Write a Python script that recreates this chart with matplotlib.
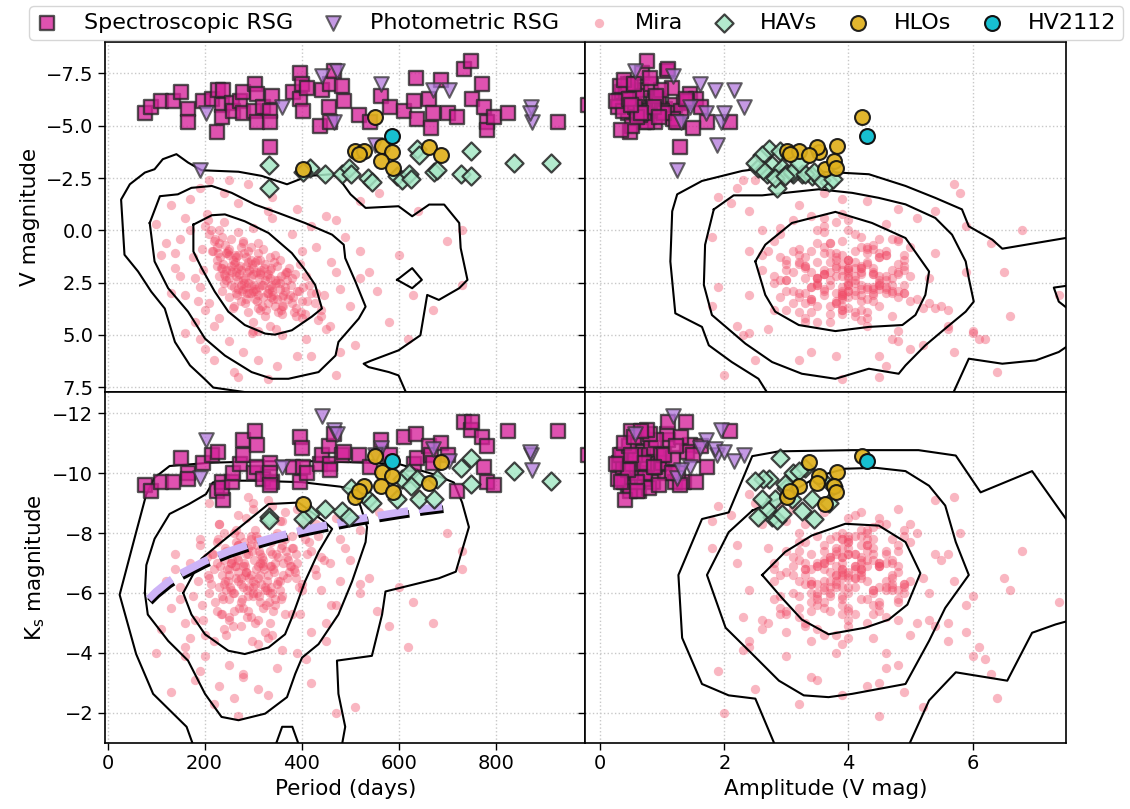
import numpy as np
import matplotlib.pyplot as plt
import matplotlib.patheffects as pe

# --- Mira variables: period (d), amplitude (V mag), V mag, Ks mag ---
mira_period = [
    250, 270, 300, 320, 290, 340, 230, 360, 280, 310,
    260, 330, 210, 380, 295, 245, 350, 275, 315, 400,
    225, 265, 335, 305, 285, 255, 370, 240, 325, 420,
    200, 345, 290, 310, 260, 385, 235, 355, 280, 330,
    300, 215, 365, 250, 410, 275, 320, 295, 240, 345,
    265, 390, 225, 310, 285, 355, 250, 335, 270, 440,
    195, 300, 325, 260, 375, 230, 315, 290, 350, 245,
    400, 280, 335, 220, 305, 365, 255, 320, 430, 270,
    295, 340, 235, 310, 380, 265, 325, 285, 360, 205,
    345, 275, 415, 250, 300, 330, 290, 370, 240, 315,
    130, 150, 110, 170, 180, 160, 140, 200, 220, 190,
    250, 280, 310, 350, 390, 240, 270, 330, 380, 430,
    460, 480, 450, 500, 520, 470, 410, 360, 300, 230,
    190, 160, 120, 100, 210, 260, 340, 420, 560, 600,
    640, 730, 730, 540, 630, 580, 510, 470, 330, 200,
    180, 150, 140, 170, 440, 490, 620, 390, 250, 290,
    520, 555, 420, 280, 360, 130, 160, 220, 270, 300,
    310, 340, 210, 230, 450, 480, 400, 190, 670, 700,
    262, 318, 288, 342, 248, 372, 298, 278, 328, 232,
    356, 308, 268, 388, 282, 312, 252, 348, 292, 322,
    242, 362, 302, 272, 338, 258, 378, 286, 316, 228,
    352, 296, 266, 334, 306, 254, 368, 276, 326, 296,
    244, 344, 284, 314, 394, 236, 274, 332, 304, 358,
    214, 226, 238, 262, 284, 306, 328, 352, 376, 398,
    222, 246, 268, 292, 318, 342, 366, 388, 412, 434,
    208, 234, 256, 282, 308, 336, 358, 382, 404, 428,
    218, 242, 264, 288, 312, 338, 362, 386, 408, 446,
    196, 258, 298, 348, 396, 176, 186, 458, 470, 520]
mira_amp = [
    3.9, 4.2, 3.6, 4.5, 3.2, 4.0, 3.7, 4.8, 2.9, 4.3,
    3.4, 3.8, 4.1, 3.5, 4.6, 3.0, 4.9, 3.6, 2.8, 4.4,
    4.0, 5.0, 3.3, 4.2, 3.9, 4.7, 3.1, 3.5, 4.1, 3.8,
    3.6, 4.5, 2.7, 5.2, 4.3, 3.4, 3.9, 3.0, 4.8, 4.4,
    3.7, 4.6, 3.9, 2.9, 4.1, 4.0, 3.2, 4.9, 3.8, 3.5,
    4.2, 4.7, 3.3, 3.9, 4.5, 2.8, 4.0, 4.3, 3.6, 3.9,
    4.4, 3.1, 4.8, 3.7, 4.0, 4.5, 3.4, 4.1, 5.1, 3.8,
    3.3, 4.6, 3.6, 2.8, 4.3, 4.2, 3.5, 4.0, 4.7, 3.2,
    3.9, 4.4, 4.1, 3.5, 3.8, 4.9, 3.0, 4.2, 3.7, 3.9,
    4.6, 3.4, 4.0, 4.3, 3.8, 3.3, 4.5, 4.1, 3.6, 4.0,
    3.2, 4.5, 2.6, 3.9, 5.3, 2.4, 4.2, 3.0, 5.6, 2.2,
    4.8, 3.4, 2.5, 4.6, 3.8, 5.8, 2.1, 5.4, 2.9, 5.0,
    3.5, 4.4, 2.7, 5.5, 3.1, 4.0, 6.2, 2.3, 6.0, 4.3,
    1.9, 5.1, 3.7, 4.6, 2.5, 6.4, 1.9, 5.9, 3.6, 4.9,
    2.4, 6.8, 4.2, 6.5, 7.4, 3.3, 5.2, 2.0, 3.9, 5.0,
    3.5, 2.8, 5.4, 4.0, 6.6, 1.8, 6.1, 4.8, 2.3, 5.7,
    4.3, 3.0, 4.5, 6.3, 1.8, 4.9, 6.0, 3.2, 4.5, 2.9,
    4.8, 3.6, 5.3, 2.6, 3.4, 5.7, 2.4, 4.7, 5.6, 3.9,
    4.1, 3.7, 4.4, 3.9, 3.4, 4.3, 3.2, 4.8, 4.6, 3.8,
    3.6, 4.2, 3.0, 4.0, 4.5, 3.5, 4.7, 4.1, 3.9, 3.3,
    4.4, 3.9, 4.7, 3.6, 3.2, 4.0, 4.5, 3.4, 4.9, 3.7,
    4.3, 3.8, 4.2, 3.5, 4.1, 3.3, 4.8, 4.0, 3.9, 4.3,
    4.6, 3.7, 3.1, 4.4, 3.6, 4.2, 3.8, 4.5, 3.4, 4.0,
    3.5, 4.2, 3.9, 4.6, 3.3, 4.0, 4.4, 3.7, 4.1, 3.2,
    4.8, 3.6, 4.3, 3.9, 4.5, 3.4, 4.0, 4.7, 3.8, 4.2,
    3.1, 4.4, 3.7, 4.0, 4.9, 3.5, 4.2, 3.9, 4.6, 3.3,
    4.1, 3.8, 4.5, 3.2, 4.3, 4.0, 3.6, 4.8, 3.9, 4.4,
    2.6, 5.4, 2.4, 5.6, 3.0, 2.9, 5.0, 2.2, 5.9, 4.7]
mira_vmag = [
    1.2, 1.8, 2.1, 2.6, 1.5, 2.9, 0.6, 3.2, 2.4, 1.1,
    2.7, 3.5, 0.2, 2.3, 3.0, 1.9, 1.7, 0.8, 3.8, 3.4,
    1.4, 2.2, 1.3, 2.8, 3.3, 0.4, 2.0, 2.5, 4.1, 3.0,
    -0.2, 2.4, 1.0, 3.7, 1.6, 3.9, 2.9, 1.4, 0.5, 2.1,
    4.4, 1.0, 2.7, 3.2, 2.2, 1.9, 0.9, 2.6, -0.4, 3.6,
    2.0, 2.9, 1.7, 3.1, 1.3, 2.5, 2.3, 4.6, 0.1, 3.8,
    0.9, 2.9, 1.6, 3.6, 1.8, 2.2, 2.0, 3.9, 3.3, 1.1,
    4.2, 2.8, 1.9, 0.5, 1.5, 2.1, 2.6, 3.2, 3.0, 1.2,
    2.2, 2.7, 1.8, 0.6, 3.5, 3.0, 2.4, 1.7, 4.0, -0.8,
    1.2, 3.4, 2.6, 0.9, 1.8, 3.0, 2.5, 2.4, 2.1, 1.4,
    -1.2, 0.4, 1.2, -1.5, 2.3, 3.1, 1.8, 3.8, 4.6, -2.0,
    5.3, 5.8, 6.2, 6.5, 6.0, -1.8, -1.3, -0.9, 0.2, 0.8,
    1.5, 2.8, 4.7, 3.6, 1.0, -0.5, 5.2, 5.0, 4.8, 4.2,
    2.7, -0.6, 0.6, -0.3, -2.4, 6.8, -1.6, -0.2, -1.8, 1.2,
    -0.9, 0.0, 2.6, 2.0, 3.1, 4.4, 5.5, 6.9, 7.1, 5.7,
    4.4, 2.2, 1.1, 0.0, 4.1, 0.3, 5.2, -1.0, -2.4, -2.2,
    -1.4, 2.9, 6.0, 0.6, 3.6, 3.0, 4.9, 6.2, 7.0, -0.1,
    4.8, -0.6, 3.5, 0.0, -0.7, 5.8, 1.0, 5.2, 3.8, 0.5,
    1.5, 2.6, 2.0, 3.1, 1.0, 3.3, 1.6, 2.9, 2.2, 1.3,
    2.8, 3.4, 2.4, 3.7, 1.1, 2.3, 1.9, 2.5, 3.0, 1.8,
    0.7, 3.6, 2.6, 2.1, 3.2, 1.4, 2.6, 2.7, 1.9, 1.1,
    3.9, 1.4, 3.1, 2.3, 2.9, 1.7, 2.0, 2.6, 3.8, 0.8,
    2.4, 1.5, 3.5, 2.1, 2.9, 0.3, 1.7, 2.8, 3.3, 2.2,
    0.0, 0.8, 1.6, 1.2, 2.3, 2.0, 3.0, 2.4, 3.1, 3.9,
    0.4, 1.1, 2.8, 1.9, 3.6, 3.3, 2.9, 4.1, 3.4, 4.3,
    -0.5, 1.8, 2.0, 2.5, 1.4, 2.6, 3.8, 3.2, 2.7, 3.5,
    1.0, 2.2, 1.3, 3.0, 2.7, 1.8, 3.1, 2.1, 4.0, 3.1,
    1.9, 3.7, 4.9, 4.7, 1.6, 1.3, 3.4, 4.6, 2.0, 2.3]
mira_kmag = [
    -6.8, -7.1, -6.4, -6.9, -5.9, -7.3, -6.2, -7.6, -5.5, -7.8,
    -6.0, -6.6, -6.5, -7.9, -5.2, -7.4, -6.3, -5.7, -7.0, -8.2,
    -5.4, -7.7, -5.0, -8.1, -6.7, -6.1, -7.2, -4.8, -6.2, -7.4,
    -7.0, -5.6, -7.5, -6.5, -8.0, -6.8, -5.9, -8.4, -6.9, -4.5,
    -6.0, -7.3, -5.3, -6.6, -8.6, -4.9, -7.1, -7.9, -6.3, -5.8,
    -6.5, -7.0, -7.7, -4.3, -8.5, -6.4, -5.1, -6.9, -7.6, -7.2,
    -5.6, -8.8, -6.1, -5.4, -6.7, -8.3, -5.7, -7.3, -8.0, -4.6,
    -6.3, -6.2, -7.4, -6.8, -5.0, -8.7, -7.0, -5.5, -6.6, -6.4,
    -7.8, -6.0, -5.3, -6.9, -7.5, -8.1, -4.7, -6.7, -5.9, -7.2,
    -7.0, -6.3, -7.7, -5.8, -6.2, -8.3, -5.4, -6.5, -7.1, -6.6,
    -5.5, -6.2, -4.8, -7.0, -5.1, -4.2, -6.8, -3.9, -4.4, -7.6,
    -3.6, -3.2, -2.8, -3.5, -4.0, -8.0, -8.6, -9.1, -5.3, -8.3,
    -5.6, -7.8, -5.0, -7.1, -6.0, -8.5, -3.8, -4.1, -5.9, -2.9,
    -3.4, -5.0, -6.4, -4.0, -9.0, -2.5, -8.9, -4.7, -8.7, -6.2,
    -9.3, -7.4, -6.8, -6.5, -5.7, -4.9, -2.2, -2.0, -2.6, -4.6,
    -3.1, -5.8, -7.3, -4.5, -6.1, -7.5, -4.2, -8.8, -5.2, -9.2,
    -8.1, -5.4, -3.0, -3.3, -8.4, -2.7, -3.9, -2.3, -1.9, -9.0,
    -5.1, -4.6, -6.0, -8.3, -4.4, -6.4, -6.1, -7.8, -5.0, -8.0,
    -6.9, -7.2, -6.1, -6.8, -6.4, -7.1, -7.4, -5.8, -6.4, -6.9,
    -6.1, -7.6, -6.7, -7.3, -7.0, -5.9, -6.2, -7.9, -6.5, -6.8,
    -7.5, -6.6, -7.1, -5.5, -7.7, -6.0, -6.9, -7.3, -6.3, -7.8,
    -6.4, -6.6, -7.2, -6.0, -6.8, -7.0, -7.4, -6.5, -5.6, -7.6,
    -6.1, -6.7, -6.9, -7.3, -6.2, -6.6, -7.9, -5.7, -6.3, -7.5,
    -6.3, -7.0, -5.8, -7.4, -6.6, -7.9, -6.1, -7.2, -6.9, -8.0,
    -5.7, -6.8, -7.6, -6.2, -7.0, -5.4, -7.8, -6.5, -7.3, -7.9,
    -6.6, -5.3, -7.1, -7.7, -6.0, -6.9, -5.8, -7.5, -8.3, -6.8,
    -7.3, -6.4, -6.9, -5.2, -7.4, -6.2, -7.0, -6.7, -7.8, -7.1,
    -5.1, -4.9, -4.4, -7.3, -5.3, -5.9, -6.4, -7.0, -5.6, -6.3]

# --- Spectroscopic RSGs ---
srsg_period = [77, 90, 111, 135, 152, 166, 166, 197, 215, 225,
               228, 235, 239, 235, 256, 259, 273, 280, 280, 301,
               304, 308, 308, 321, 335, 339, 335, 335, 383, 397,
               401, 397, 404, 411, 439, 442, 456, 459, 459, 466,
               483, 487, 518, 542, 563, 583, 611, 632, 635, 639,
               663, 666, 670, 687, 701, 721, 735, 749, 752, 773,
               776, 783, 783, 797, 825, 928, 990]
srsg_amp = [0.45, 0.62, 0.38, 0.85, 0.55, 1.05, 0.70, 0.30, 0.92, 0.48,
            0.66, 1.20, 0.40, 0.78, 1.35, 0.58, 0.95, 0.35, 1.10, 0.72,
            0.50, 1.45, 0.88, 0.28, 1.00, 0.60, 1.25, 1.29, 0.42, 0.68,
            0.82, 1.55, 0.36, 1.15, 0.52, 0.98, 1.62, 0.75, 0.44, 1.08,
            0.32, 1.40, 0.64, 1.72, 0.90, 0.56, 1.30, 0.26, 0.80, 1.18,
            0.47, 1.50, 0.70, 0.38, 1.02, 0.60, 1.10, 0.75, 1.38, 0.54,
            0.86, 1.22, 0.34, 0.95, 0.66, 2.09, 0.50]
srsg_vmag = [-5.6, -5.9, -6.2, -6.2, -6.6, -5.8, -5.2, -6.2, -6.3, -4.7,
             -6.7, -6.0, -6.7, -5.4, -6.1, -5.7, -6.2, -6.6, -5.6, -5.7,
             -7.0, -6.5, -5.2, -5.9, -5.7, -6.4, -5.2, -4.0, -6.6, -7.5,
             -7.0, -6.3, -5.7, -6.8, -5.0, -6.7, -5.9, -5.2, -7.0, -7.6,
             -6.9, -6.2, -5.5, -5.2, -6.4, -5.9, -5.7, -6.2, -7.3, -5.3,
             -6.3, -4.9, -5.6, -7.2, -5.6, -5.4, -7.7, -8.1, -6.3, -7.0,
             -5.9, -5.2, -4.8, -5.4, -5.6, -5.2, -6.0]
srsg_kmag = [-9.6, -9.4, -9.7, -9.7, -10.5, -10.0, -9.8, -10.35, -10.6, -9.4,
             -10.7, -9.7, -9.1, -9.5, -9.7, -10.0, -10.3, -10.6, -11.1, -10.0,
             -11.4, -10.95, -10.2, -9.8, -10.35, -9.7, -10.0, -9.6, -10.2, -11.2,
             -10.85, -9.7, -10.2, -10.0, -10.3, -10.6, -10.9, -10.3, -10.1, -11.3,
             -10.6, -10.7, -10.6, -10.2, -11.1, -10.6, -11.2, -10.3, -11.3, -10.5,
             -10.9, -10.6, -10.35, -11.0, -10.6, -9.4, -11.7, -11.45, -11.7, -11.2,
             -10.2, -10.9, -9.7, -9.6, -11.4, -11.4, -10.6]

# --- Photometric RSGs ---
prsg_period = [190, 204, 359, 442, 466, 473, 563, 552, 670, 704, 873, 876, 870]
prsg_amp = [1.24, 1.70, 1.45, 1.18, 1.95, 0.56, 1.61, 1.88, 1.85, 2.15, 2.31, 1.30, 1.99]
prsg_vmag = [-2.9, -5.6, -5.9, -7.4, -5.2, -7.6, -7.0, -4.1, -6.7, -6.7, -5.9, -5.2, -5.6]
prsg_kmag = [-9.85, -11.1, -10.2, -11.9, -11.45, -11.3, -10.85, -10.6, -10.8, -10.4, -10.6, -10.1, -10.7]

# --- HAVs ---
hav_period = [332, 332, 418, 449, 483, 497, 501, 538, 545, 597, 607, 621,
              639, 642, 673, 680, 728, 749, 749, 838, 914, 404, 625]
hav_amp = [2.77, 2.85, 2.93, 2.69, 3.25, 2.55, 3.00, 2.82, 3.68, 3.41, 3.55, 3.10,
           2.72, 2.61, 3.09, 2.62, 3.30, 2.90, 2.98, 3.20, 2.50, 3.45, 3.75]
hav_vmag = [-3.1, -2.0, -3.0, -2.7, -2.7, -3.0, -2.7, -2.5, -2.3, -2.6, -2.4, -2.7,
            -3.9, -3.6, -2.8, -2.9, -2.7, -3.8, -2.6, -3.2, -3.2, -2.8, -2.45]
hav_kmag = [-8.53, -8.45, -8.64, -8.8, -8.75, -8.53, -9.52, -9.13, -9.0, -9.13, -9.8, -10.02,
            -9.8, -9.13, -9.13, -9.8, -10.18, -10.51, -9.63, -10.07, -9.74, -8.47, -9.58]

# --- HLOs ---
hlo_period = [552, 511, 528, 518, 404, 566, 587, 563, 589, 663, 688]
hlo_amp = [4.22, 3.01, 3.20, 3.06, 3.63, 3.82, 3.52, 3.76, 3.80, 3.49, 3.36]
hlo_vmag = [-5.43, -3.8, -3.8, -3.64, -2.92, -4.04, -3.72, -3.32, -3.0, -3.96, -3.6]
hlo_kmag = [-10.57, -9.19, -9.58, -9.41, -8.97, -10.04, -9.91, -9.58, -9.38, -9.66, -10.37]

# --- HV2112 ---
hv_period = [587]
hv_amp = [4.3]
hv_vmag = [-4.52]
hv_kmag = [-10.4]

# --- Mira period-luminance relation ---
pl_period = [85, 100, 125, 150, 200, 250, 300, 350, 400, 450, 500, 550, 600, 650, 690]
pl_kmag = [-5.80, -6.04, -6.37, -6.64, -7.06, -7.39, -7.66, -7.89, -8.09, -8.26,
           -8.42, -8.56, -8.69, -8.81, -8.89]

# --- Mira density contours ---
# period vs V
pv_outer_p = [332, 218, 201, 170, 139, 118, 90, 63, 35, 28, 46, 77, 97, 114, 142, 166, 194,
              270, 318, 370, 414, 463, 476, 501, 532, 600, 628, 663, 694, 725, 728, 742,
              725, 683, 659, 645, 600, 545, 528, 538, 580, 600, 618]
pv_outer_v = [7.9, 7.52, 7.13, 6.46, 5.34, 3.74, 2.93, 1.97, 1.17, -1.47, -2.2, -2.76, -2.92,
              -3.4, -3.64, -3.24, -2.87, -2.8, -2.6, -2.2, -2.6, -2.68, -2.52, -1.72, -1.07,
              -1.15, -0.67, -1.23, -1.23, -0.35, 0.85, 2.37, 2.77, 3.33, 3.09, 5.02, 5.74,
              6.22, 6.38, 6.54, 6.78, 6.94, 7.9]
pv_island_p = [597, 628, 648, 628, 597]
pv_island_v = [2.37, 1.81, 2.37, 2.77, 2.37]
pv_mid_p = [87, 108, 145, 173, 215, 256, 304, 352, 407, 463, 487, 490, 511, 532, 518, 476,
            470, 435, 373, 339, 297, 242, 201, 166, 125, 97, 87]
pv_mid_v = [-0.35, -1.63, -1.72, -2.03, -2.12, -1.79, -1.23, -0.83, -0.35, 0.21, 0.69, 1.33,
            2.45, 3.65, 4.22, 5.34, 5.99, 6.78, 7.1, 7.1, 6.78, 5.99, 5.18, 3.89, 2.77, 1.49, -0.35]
pv_in_p = [177, 215, 242, 283, 332, 380, 407, 428, 442, 421, 380, 345, 325, 283, 249, 221,
           194, 177, 177]
pv_in_v = [-0.27, -0.72, -0.76, -0.43, 0.13, 1.09, 1.89, 2.61, 3.74, 4.13, 4.78, 4.99, 4.94,
           4.53, 3.89, 2.93, 1.81, 1.01, -0.27]

# amplitude vs V
av_outer_a = [2.72, 2.55, 2.12, 1.75, 1.64, 1.21, 1.13, 1.16, 1.24, 1.64, 2.29, 2.5, 3.09,
              3.9, 4.33, 4.92, 5.4, 5.83, 5.94, 6.32, 6.48, 7.6]
av_outer_v = [7.9, 7.1, 6.3, 5.5, 4.62, 3.97, 1.49, -0.91, -1.72, -2.36, -2.84, -2.92, -2.87,
              -2.75, -2.68, -2.12, -1.55, -1.0, -0.19, 0.45, 0.88, 0.32]
av_notch_a = [7.6, 7.31, 7.39, 7.6]
av_notch_v = [2.62, 2.74, 3.41, 3.9]
av_low_a = [5.67, 5.94, 6.48, 7.02, 7.39, 7.6]
av_low_v = [7.9, 6.14, 6.38, 6.22, 5.82, 5.4]
av_mid_a = [1.83, 2.15, 2.61, 2.98, 3.52, 4.06, 4.49, 4.92, 5.4, 5.67, 5.89, 5.94, 6.02, 5.89,
            5.56, 5.24, 4.92, 4.81, 4.33, 3.79, 3.25, 2.77, 2.34, 2.12, 1.8, 1.67, 1.69, 1.83]
av_mid_v = [-1.0, -1.67, -1.67, -1.79, -1.96, -1.79, -1.55, -1.24, -0.59, 0.21, 1.49, 2.29,
            3.41, 3.89, 4.7, 5.5, 6.46, 6.86, 6.62, 7.1, 6.86, 6.3, 5.42, 4.86, 4.05, 2.61,
            0.69, -1.0]
av_in_a = [2.5, 2.66, 3.09, 3.79, 4.38, 4.92, 5.3, 5.24, 5.08, 4.87, 4.33, 3.79, 3.2, 2.82,
           2.66, 2.5]
av_in_v = [1.49, 0.69, -0.35, -0.88, -0.35, 0.37, 1.97, 3.09, 4.05, 4.53, 4.62, 4.82, 4.53,
           3.89, 3.09, 1.49]

# period vs Ks
pk_outer_p = [177, 163, 94, 59, 25, 59, 80, 97, 128, 211, 328, 432, 535, 604, 673, 714, 731,
              745, 718, 683, 628, 573, 566, 545, 473, 476, 490, 483]
pk_outer_k = [-0.9, -1.53, -2.63, -3.96, -5.94, -8.03, -9.3, -9.85, -10.24, -10.35, -10.4,
              -10.4, -10.35, -10.29, -9.96, -9.69, -9.02, -8.2, -6.71, -6.49, -6.27, -6.05,
              -5.28, -3.9, -3.74, -2.63, -1.53, -0.9]
pk_bump_p = [346, 360, 381, 395]
pk_bump_k = [-0.9, -1.53, -1.53, -0.9]
pk_mid_p = [77, 80, 97, 128, 168, 203, 217, 238, 300, 400, 480, 504, 521, 535, 532, 504,
            476, 435, 401, 387, 370, 325, 270, 235, 201, 166, 125, 83, 77]
pk_mid_k = [-6.0, -6.93, -7.81, -8.64, -8.97, -9.3, -9.69, -9.75, -9.75, -9.7, -9.55, -9.46,
            -8.92, -8.2, -7.7, -6.38, -5.28, -4.29, -3.84, -3.3, -2.52, -1.97, -1.75, -1.86,
            -2.63, -3.74, -4.4, -5.28, -6.0]
pk_in_p = [156, 194, 235, 277, 332, 394, 449, 463, 435, 407, 380, 366, 332, 283, 249, 201,
           173, 156]
pk_in_k = [-6.0, -7.15, -7.7, -8.25, -8.97, -9.02, -8.36, -8.14, -7.37, -6.38, -5.17, -4.62,
           -4.18, -3.96, -4.07, -4.62, -5.28, -6.0]

# amplitude vs Ks
ak_outer_a = [2.82, 2.5, 2.07, 1.64, 1.32, 1.26, 1.64, 2.07, 2.45, 2.88, 4.06, 5.13, 5.73,
              6.13, 6.96, 7.6]
ak_outer_k = [-0.9, -2.47, -2.58, -2.96, -4.5, -6.6, -8.47, -8.69, -10.57, -10.73, -10.77,
              -10.77, -10.59, -9.36, -10.07, -8.2]
ak_low_a = [7.6, 7.34, 6.96, 6.56, 5.73, 5.3, 4.97]
ak_low_k = [-5.1, -4.95, -4.67, -3.07, -3.35, -2.41, -0.9]
ak_mid_a = [2.45, 2.07, 1.72, 2.02, 2.45, 2.88, 3.28, 3.68, 4.06, 4.92, 5.3, 5.56, 5.94, 5.73,
            5.56, 5.3, 4.92, 4.44, 3.95, 3.52, 2.98, 2.45]
ak_mid_k = [-8.75, -8.03, -6.6, -4.84, -3.96, -3.07, -2.58, -2.52, -2.63, -2.96, -4.4, -5.5,
            -6.6, -7.7, -8.92, -9.58, -10.07, -10.18, -10.15, -9.91, -9.25, -8.75]
ak_in_a = [2.61, 2.98, 3.41, 3.95, 4.49, 4.92, 5.16, 4.95, 4.65, 4.27, 3.68, 3.25, 2.93, 2.61]
ak_in_k = [-6.6, -7.37, -7.92, -8.31, -8.25, -7.7, -6.66, -5.61, -5.11, -4.84, -4.62, -5.11,
           -5.83, -6.6]

contours = {
    (0, 0): [(pv_outer_p, pv_outer_v), (pv_island_p, pv_island_v), (pv_mid_p, pv_mid_v),
             (pv_in_p, pv_in_v)],
    (0, 1): [(av_outer_a, av_outer_v), (av_notch_a, av_notch_v), (av_low_a, av_low_v),
             (av_mid_a, av_mid_v), (av_in_a, av_in_v)],
    (1, 0): [(pk_outer_p, pk_outer_k), (pk_bump_p, pk_bump_k), (pk_mid_p, pk_mid_k),
             (pk_in_p, pk_in_k)],
    (1, 1): [(ak_outer_a, ak_outer_k), (ak_low_a, ak_low_k), (ak_mid_a, ak_mid_k),
             (ak_in_a, ak_in_k)],
}

xdata = {0: (mira_period, srsg_period, prsg_period, hav_period, hlo_period, hv_period),
         1: (mira_amp, srsg_amp, prsg_amp, hav_amp, hlo_amp, hv_amp)}
ydata = {0: (mira_vmag, srsg_vmag, prsg_vmag, hav_vmag, hlo_vmag, hv_vmag),
         1: (mira_kmag, srsg_kmag, prsg_kmag, hav_kmag, hlo_kmag, hv_kmag)}

plt.rcParams['font.family'] = 'DejaVu Sans'
fig, axes = plt.subplots(2, 2, figsize=(11.3, 8.09), dpi=100, sharex='col', sharey='row')
fig.subplots_adjust(left=0.093, right=0.943, top=0.948, bottom=0.082, wspace=0, hspace=0)

handles = []
for r in range(2):
    for c in range(2):
        ax = axes[r, c]
        mx, sx, px, hx, lx, vx = xdata[c]
        my, sy, py, hy, ly, vy = ydata[r]
        h_m = ax.scatter(mx, my, s=45, color='#f04a66', alpha=0.4, lw=0, zorder=1, label='Mira')
        for cx, cy in contours[(r, c)]:
            ax.plot(cx, cy, color='k', lw=1.5, zorder=2)
        if (r, c) == (1, 0):
            ax.plot(pl_period, pl_kmag, color='#cdb3f7', lw=5.5, ls=(0, (4.0, 1.4)), zorder=3,
                    path_effects=[pe.SimpleLineShadow(offset=(0.8, -2.0), shadow_color='k',
                                                      alpha=1.0), pe.Normal()])
        h_s = ax.scatter(sx, sy, s=110, marker='s', color='#d6219a', edgecolor='#262626',
                         lw=1.7, alpha=0.78, zorder=4, label='Spectroscopic RSG')
        h_p = ax.scatter(px, py, s=110, marker='v', color='#b277dc', edgecolor='#333333',
                         lw=1.5, alpha=0.75, zorder=4, label='Photometric RSG')
        h_h = ax.scatter(hx, hy, s=85, marker='D', color='#a6e8c6', edgecolor='#222222',
                         lw=1.6, alpha=0.85, zorder=5, label='HAVs')
        h_l = ax.scatter(lx, ly, s=115, marker='o', color='#e0b01c', edgecolor='#111111',
                         lw=1.5, alpha=0.92, zorder=6, label='HLOs')
        h_v = ax.scatter(vx, vy, s=115, marker='o', color='#17bfd0', edgecolor='#111111',
                         lw=1.5, zorder=7, label='HV2112')
        if (r, c) == (0, 0):
            handles = [h_s, h_p, h_m, h_h, h_l, h_v]
        ax.grid(True, ls=':', color='#c8c8c8', lw=1.0)
        ax.set_axisbelow(True)
        for sp in ax.spines.values():
            sp.set_linewidth(1.2)
        ax.tick_params(labelsize=14, length=5, width=1)
        if r == 0:
            ax.tick_params(bottom=False)

axes[0, 0].set_xlim(-5, 985)
axes[0, 1].set_xlim(-0.24, 7.5)
axes[0, 0].set_ylim(7.75, -9.0)
axes[1, 0].set_ylim(-1.0, -12.7)
axes[0, 0].set_yticks([-7.5, -5.0, -2.5, 0.0, 2.5, 5.0, 7.5])
axes[1, 0].set_yticks([-12, -10, -8, -6, -4, -2])
axes[1, 0].set_xticks([0, 200, 400, 600, 800])
axes[1, 1].set_xticks([0, 2, 4, 6])

axes[0, 0].set_ylabel('V magnitude', fontsize=15.5)
axes[1, 0].set_ylabel(r'K$_{\rm s}$ magnitude', fontsize=15.5)
axes[1, 0].set_xlabel('Period (days)', fontsize=15.5)
axes[1, 1].set_xlabel('Amplitude (V mag)', fontsize=15.5)

fig.legend(handles=handles, loc='upper left', bbox_to_anchor=(0.016, 1.006), ncol=6,
           fontsize=16, handlelength=1.0, handletextpad=1.15, columnspacing=1.3,
           borderpad=0.3, frameon=True, edgecolor='#cccccc', fancybox=True)

fig.savefig('out.png', dpi=100)
